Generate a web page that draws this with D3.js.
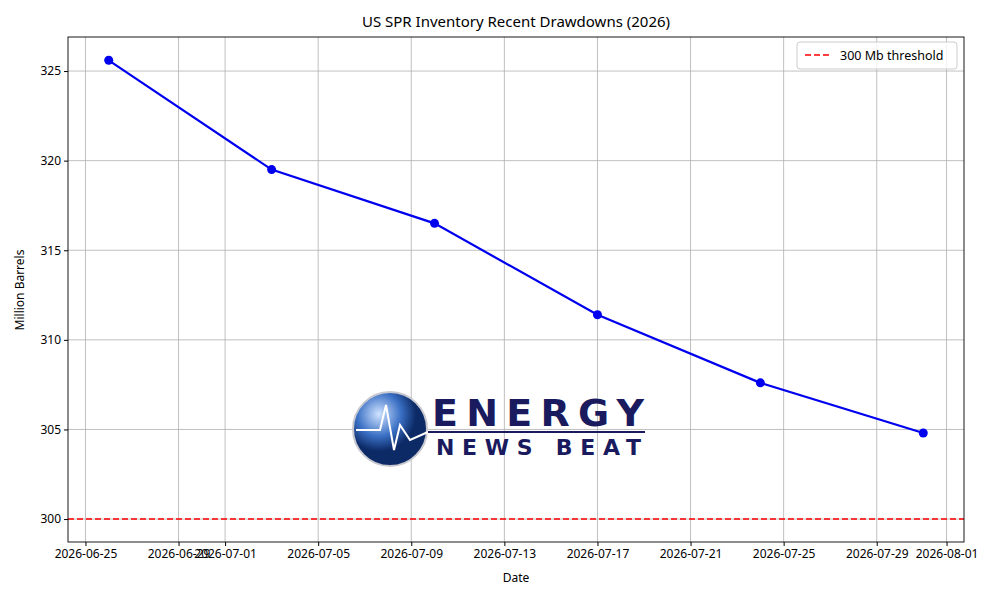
<!DOCTYPE html>
<html><head><meta charset="utf-8">
<script src="https://cdn.jsdelivr.net/npm/d3@7"></script>
<style>body{margin:0;background:#fff}svg text{font-family:"Noto Sans",sans-serif}</style>
</head><body>
<svg id="c" width="1000" height="600"></svg>
<script>
const dates = ["2026-06-26","2026-07-03","2026-07-10","2026-07-17","2026-07-24","2026-07-31"];
const inventory = [325.6, 319.5, 316.5, 311.4, 307.6, 304.8];
const tickDates = ["2026-06-25","2026-06-29","2026-07-01","2026-07-05","2026-07-09","2026-07-13","2026-07-17","2026-07-21","2026-07-25","2026-07-29","2026-08-01"];
const yTicks = [300, 305, 310, 315, 320, 325];
const threshold = 300;

const parse = d3.utcParse("%Y-%m-%d");
const svg = d3.select("#c");
const L = 68, R = 964, T = 37, B = 542;
const day = 864e5;
const x0 = parse(dates[0]), x1 = parse(dates[dates.length - 1]);
const pad = (x1 - x0) * 0.05;
const x = d3.scaleUtc().domain([new Date(+x0 - pad), new Date(+x1 + pad)]).range([L, R]);
const y = d3.scaleLinear().domain([298.72, 326.9]).range([B, T]);

// grid
const g = svg.append("g");
g.selectAll(".vx").data(tickDates).join("line")
  .attr("x1", d => x(parse(d))).attr("x2", d => x(parse(d))).attr("y1", T).attr("y2", B)
  .attr("stroke", "#b0b0b0").attr("stroke-width", 0.8);
g.selectAll(".hy").data(yTicks).join("line")
  .attr("y1", d => y(d)).attr("y2", d => y(d)).attr("x1", L).attr("x2", R)
  .attr("stroke", "#b0b0b0").attr("stroke-width", 0.8);

// watermark logo
const logo = svg.append("g");
const grad = svg.append("defs").append("radialGradient").attr("id", "gl").attr("cx", "35%").attr("cy", "30%");
grad.append("stop").attr("offset", "0%").attr("stop-color", "#cfe3ff");
grad.append("stop").attr("offset", "60%").attr("stop-color", "#3a6fc4");
grad.append("stop").attr("offset", "100%").attr("stop-color", "#0c2a66");
logo.append("circle").attr("cx", 390).attr("cy", 429).attr("r", 37).attr("fill", "url(#gl)").attr("stroke", "#c8c8d0").attr("stroke-width", 2);
logo.append("path").attr("d", "M356,430 L380,430 L386,405 L394,450 L400,425 L410,440 L428,432").attr("fill", "none").attr("stroke", "#fff").attr("stroke-width", 2);
logo.append("line").attr("x1", 428).attr("x2", 645).attr("y1", 432).attr("y2", 432).attr("stroke", "#1a1a5e").attr("stroke-width", 2);
logo.append("text").attr("x", 432).attr("y", 426).attr("font-size", 38).attr("font-weight", 900).attr("fill", "#1a1a5e")
  .attr("textLength", 212).style("font-family", "'DejaVu Sans'").text("ENERGY");
logo.append("text").attr("x", 436).attr("y", 455).attr("font-size", 22).attr("font-weight", 900).attr("fill", "#1a1a5e")
  .attr("textLength", 208).attr("letter-spacing", 3).style("font-family", "'DejaVu Sans'").text("NEWS BEAT");

// threshold
svg.append("line").attr("x1", L).attr("x2", R).attr("y1", y(threshold)).attr("y2", y(threshold))
  .attr("stroke", "#ff0000").attr("stroke-width", 1.6).attr("stroke-dasharray", "6,3");

// series
const pts = dates.map((d, i) => [parse(d), inventory[i]]);
svg.append("path").datum(pts).attr("fill", "none").attr("stroke", "#0000ee").attr("stroke-width", 2.2)
  .attr("d", d3.line().x(d => x(d[0])).y(d => y(d[1])));
svg.selectAll(".pt").data(pts).join("circle").attr("cx", d => x(d[0])).attr("cy", d => y(d[1])).attr("r", 4.5).attr("fill", "#0000ee");

// frame
svg.append("rect").attr("x", L).attr("y", T).attr("width", R - L).attr("height", B - T).attr("fill", "none").attr("stroke", "#000").attr("stroke-width", 0.9);

// axes
const xa = svg.append("g").attr("transform", `translate(0,${B})`)
  .call(d3.axisBottom(x).tickValues(tickDates.map(parse)).tickFormat(d3.utcFormat("%Y-%m-%d")).tickSize(4).tickSizeOuter(0));
xa.select(".domain").remove();
xa.selectAll("text").attr("font-size", 12).attr("fill", "#000").style("font-family", "'Noto Sans'");
const ya = svg.append("g").attr("transform", `translate(${L},0)`)
  .call(d3.axisLeft(y).tickValues(yTicks).tickSize(4));
ya.select(".domain").remove();
ya.selectAll("text").attr("font-size", 12).attr("fill", "#000");

svg.append("text").attr("x", (L + R) / 2).attr("y", 27).attr("text-anchor", "middle").attr("font-size", 15).text("US SPR Inventory Recent Drawdowns (2026)");
svg.append("text").attr("x", (L + R) / 2).attr("y", 582).attr("text-anchor", "middle").attr("font-size", 12).text("Date");
svg.append("text").attr("transform", "translate(24,290) rotate(-90)").attr("text-anchor", "middle").attr("font-size", 12).text("Million Barrels");

// legend
const lg = svg.append("g");
lg.append("rect").attr("x", 797).attr("y", 42).attr("width", 160).attr("height", 27).attr("rx", 3).attr("fill", "#fff").attr("fill-opacity", 0.8).attr("stroke", "#ccc");
lg.append("line").attr("x1", 805).attr("x2", 832).attr("y1", 55).attr("y2", 55).attr("stroke", "#ff0000").attr("stroke-width", 1.6).attr("stroke-dasharray", "6,3");
lg.append("text").attr("x", 840).attr("y", 60).attr("font-size", 12.5).text("300 Mb threshold");
</script>
</body></html>
